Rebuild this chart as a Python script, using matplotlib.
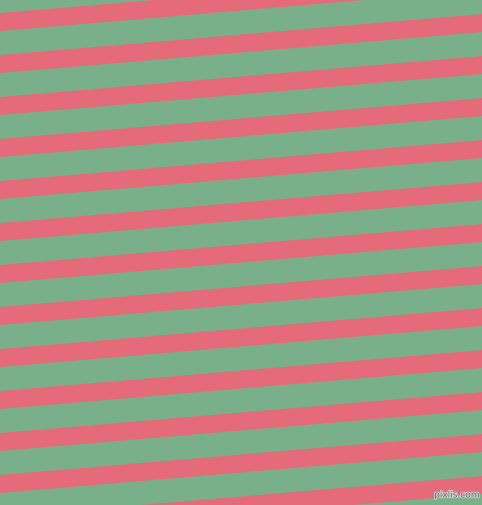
import numpy as np
import matplotlib.pyplot as plt
import matplotlib.patheffects as pe

# stripe data (pixel units, image is 482 x 506)
band_tops = [-28, 14, 56, 98, 140, 182, 224, 266, 308, 350, 392, 434, 476, 518]
band_width = 18
slope = -0.085
green = "#79b08a"
red = "#e66b7a"

fig = plt.figure(figsize=(4.82, 5.06), dpi=100)
ax = fig.add_axes([0, 0, 1, 1])
ax.set_facecolor(green)

x = np.array([0, 482])
for top in band_tops:
    y1 = top + slope * x
    ax.fill_between(x, y1, y1 + band_width, color=red, linewidth=0)

ax.set_xlim(0, 482)
ax.set_ylim(506, 0)
ax.axis("off")
fig.patch.set_facecolor(green)

ax.text(457, 496, "pixlis.com", fontsize=6.5, color="#707070", ha="center", va="center",
        path_effects=[pe.withStroke(linewidth=1.2, foreground="#d0d0d0")])

fig.savefig("out.png", dpi=100, facecolor=green)
